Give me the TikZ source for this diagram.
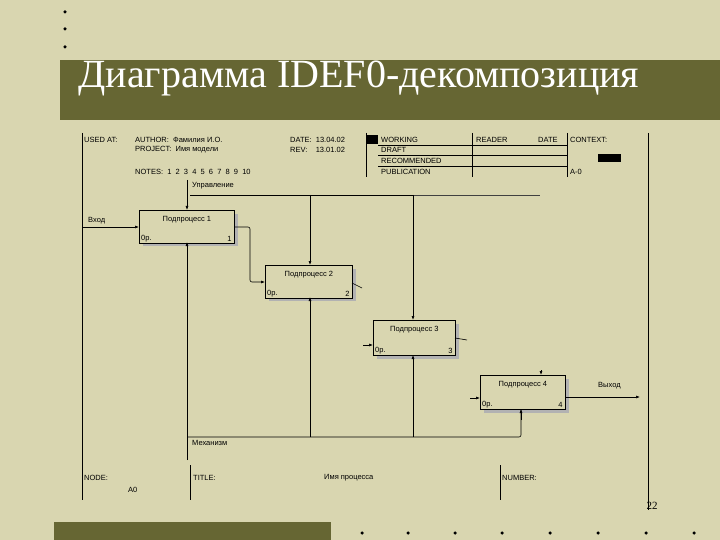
\documentclass[tikz,border=0pt]{standalone}
\usepackage{fontspec}
\setmainfont{Liberation Sans}
\newfontfamily\seriffont{Liberation Serif}
\usetikzlibrary{arrows.meta,patterns}
\definecolor{bg}{HTML}{D9D6B0}
\definecolor{olive}{HTML}{666633}
\begin{document}
\begin{tikzpicture}[x=1pt,y=-1pt,
  lab/.style={font=\fontsize{7.5}{8}\selectfont,anchor=west,inner sep=0pt},
  proc/.style={draw,thick,fill=bg,minimum width=#1,minimum height=33pt,inner sep=0pt},
  arr/.style={-{Latex[length=4pt,width=3pt]}},
  ln/.style={line width=0.6pt},
  bul/.style={circle,fill=black,inner sep=0pt,minimum size=3.5pt}]
\fill[bg] (0,0) rectangle (720,540);
\useasboundingbox (0,0) rectangle (720,540);
% title band
\fill[olive] (60,60) rectangle (720,120);
\node[anchor=west,text=white,font=\seriffont\fontsize{40}{42}\selectfont] (title) at (75,78) {Диаграмма IDEF0-декомпозиция};
\foreach \y [count=\i] in {12,29,47} \node[bul] (tb\i) at (65,\y) {};
\fill[olive] (54,522) rectangle (331,540);
\foreach \x [count=\i] in {362,408,455,502,550,598,646,694} \node[bul] (bb\i) at (\x,533) {};
\node[font=\seriffont\fontsize{11}{12}\selectfont] (pg) at (652,506) {22};
% frame
\draw[ln] (82,133) -- (82,500);
\draw[ln] (648,133) -- (648,510);
% header
\node[lab] (usedat) at (84,140) {USED AT:};
\node[lab] (author) at (135,140) {AUTHOR:\ \ Фамилия И.О.};
\node[lab] (project) at (135,150) {PROJECT:\ \ Имя модели};
\node[lab] (notes) at (135,172) {NOTES:\ \ 1\ \ 2\ \ 3\ \ 4\ \ 5\ \ 6\ \ 7\ \ 8\ \ 9\ \ 10};
\node[lab] (date) at (290,140) {DATE:\ \ 13.04.02};
\node[lab] (rev) at (290,150) {REV:\ \ \ \ 13.01.02};
\fill (366,135) rectangle (378,144);
\node[lab] (working) at (381,140) {WORKING};
\node[lab] (draft) at (381,150) {DRAFT};
\node[lab] (recom) at (381,161) {RECOMMENDED};
\node[lab] (pub) at (381,172) {PUBLICATION};
\node[lab] (reader) at (476,140) {READER};
\node[lab] (rdate) at (538,140) {DATE};
\node[lab] (context) at (570,140) {CONTEXT:};
\fill (598,154) rectangle (621,162);
\node[lab] (am) at (570,172) {A-0};
\draw[ln] (378,145) -- (567,145) (378,155) -- (567,155) (378,166) -- (567,166);
\draw[ln] (366,133) -- (366,177) (472,133) -- (472,177) (567,133) -- (567,177);
% boxes
\fill[gray!60] (143,214) rectangle (238,246);
\node[proc=95pt,anchor=north west] (p1) at (139,210) {};
\node[font=\fontsize{7.5}{8}\selectfont] at ([yshift=-10pt]p1.north) {Подпроцесс 1};
\fill[gray!60] (269,269) rectangle (356,301);
\node[proc=87pt,anchor=north west] (p2) at (265,265) {};
\node[font=\fontsize{7.5}{8}\selectfont] at ([yshift=-10pt]p2.north) {Подпроцесс 2};
\fill[gray!60] (377,324) rectangle (459,359);
\node[proc=82pt,minimum height=35pt,anchor=north west] (p3) at (373,320) {};
\node[font=\fontsize{7.5}{8}\selectfont] at ([yshift=-10pt]p3.north) {Подпроцесс 3};
\fill[gray!60] (484,379) rectangle (569,413);
\node[proc=85pt,minimum height=34pt,anchor=north west] (p4) at (480,375) {};
\node[font=\fontsize{7.5}{8}\selectfont] at ([yshift=-10pt]p4.north) {Подпроцесс 4};
\foreach \b/\n in {p1/1,p2/2,p3/3,p4/4}{
  \node[lab,anchor=south west] at ([shift={(2,-2)}]\b.south west) {0р.};
  \node[lab,anchor=south east] at ([shift={(-3,-2)}]\b.south east) {\n};
}
% control
\node[lab] (upr) at (192,186) {Управление};
\coordinate (c0) at (187,180);
\draw[ln,arr] (c0) -- (187,210);
\draw[ln] (190,195) -- (413,195);
\draw[ln,gray!50!black] (413,195) -- (540,195);
\draw[ln,arr] (310,195) -- (310,265);
\draw[ln,arr] (413,195) -- (413,320);
\draw[ln,arr] (541,370) -- (541,375);
% input
\node[lab] (vhod) at (88,221) {Вход};
\draw[ln,arr] (82,227) -- (p1.west |- 0,227);
\draw[ln,arr,rounded corners=2pt] (234,227) -- (250,227) -- (250,282) -- (265,282);
\draw[ln] (352,283) -- (362,288);
\draw[ln,arr] (363,345) -- (373,345);
\draw[ln] (455,338) -- (467,340);
\draw[ln,arr] (470,398) -- (480,398);
\node[lab] (vyhod) at (598,386) {Выход};
\draw[ln,arr] (565,397) -- (640,397);
% mechanism
\draw[ln,rounded corners=2pt] (187,437) -- (521,437) -- (521,409);
\draw[ln,arr] (521,420) -- (521,409);
\draw[ln,arr] (187,460) -- (187,242);
\draw[ln,arr] (310,437) -- (310,297);
\draw[ln,arr] (413,437) -- (413,355);
\node[lab] (mech) at (192,443) {Механизм};
% footer
\draw[ln] (190,465) -- (190,500) (500,465) -- (500,500);
\node[lab] (node) at (84,478) {NODE:};
\node[lab] (a0) at (128,490) {A0};
\node[lab] (tit) at (193,478) {TITLE:};
\node[lab] (imp) at (324,478) {Имя процесса};
\node[lab] (num) at (502,478) {NUMBER:};
\end{tikzpicture}
\end{document}
